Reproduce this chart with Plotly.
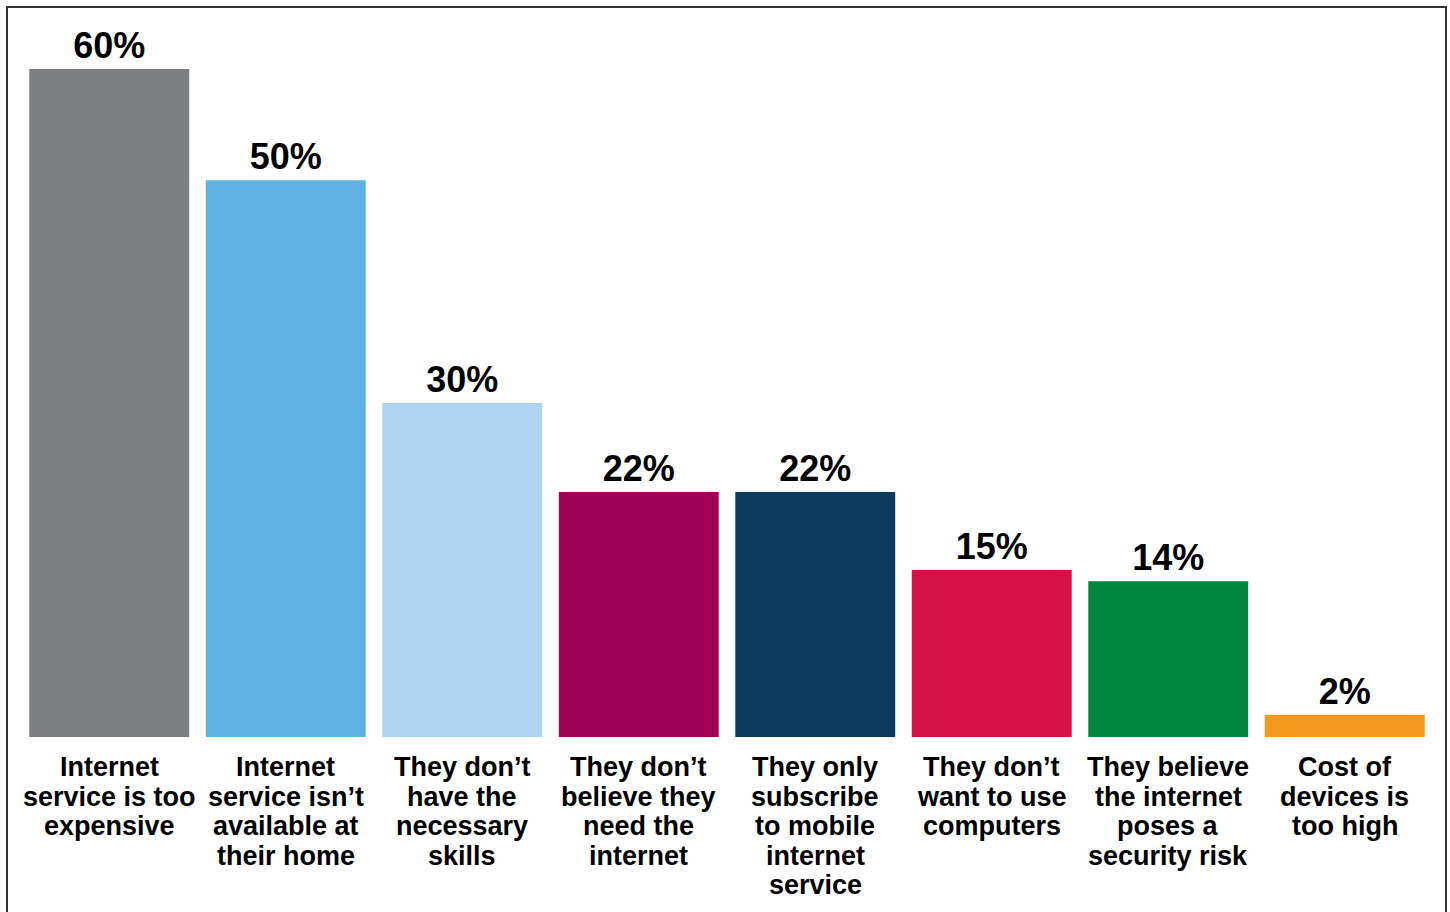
import plotly.graph_objects as go

# Reasons households give for not having home internet
categories = [
    "Internet<br>service is too<br>expensive",
    "Internet<br>service isn’t<br>available at<br>their home",
    "They don’t<br>have the<br>necessary<br>skills",
    "They don’t<br>believe they<br>need the<br>internet",
    "They only<br>subscribe<br>to mobile<br>internet<br>service",
    "They don’t<br>want to use<br>computers",
    "They believe<br>the internet<br>poses a<br>security risk",
    "Cost of<br>devices is<br>too high",
]
shares = [60, 50, 30, 22, 22, 15, 14, 2]
bar_colors = ["#7e7f83", "#5fb3e4", "#afd4ef", "#9d0055",
              "#0c3a5f", "#d31346", "#00853f", "#f7991f"]

W, H = 1450, 912
M_L, M_R, M_T, M_B = 21, 17, 40, 175
plot_w = W - M_L - M_R
plot_h = H - M_T - M_B

x_idx = list(range(len(categories)))

fig = go.Figure(
    go.Bar(
        x=x_idx,
        y=shares,
        marker=dict(color=bar_colors, line=dict(width=0)),
        width=0.906,
        texttemplate="<b>%{y}%</b>",
        textposition="outside",
        textfont=dict(family="Liberation Sans, Arial, sans-serif", size=36, color="#000"),
        cliponaxis=False,
        hoverinfo="skip",
    )
)

# Category labels, one annotation per line for tight line spacing
label_font = dict(family="Liberation Sans, Arial, sans-serif", size=27, color="#000")
line_gap = 29.5
for i, label in enumerate(categories):
    for j, line in enumerate(label.split("<br>")):
        fig.add_annotation(
            x=i, y=0, xref="x", yref="y",
            text=f"<b>{line}</b>", showarrow=False,
            xanchor="center", yanchor="middle",
            yshift=-(30 + j * line_gap),
            font=label_font,
        )

# Outer frame
fig.add_shape(
    type="rect", xref="paper", yref="paper",
    x0=(7 - M_L) / plot_w, x1=(1446 - M_L) / plot_w,
    y0=(M_T + plot_h - 930) / plot_h, y1=(M_T + plot_h - 7) / plot_h,
    line=dict(color="#333333", width=2), fillcolor="rgba(0,0,0,0)",
)

fig.update_layout(
    width=W, height=H,
    margin=dict(l=M_L, r=M_R, t=M_T, b=M_B, pad=0),
    paper_bgcolor="white", plot_bgcolor="white",
    showlegend=False,
    bargap=0.094,
    font=dict(family="Liberation Sans, Arial, sans-serif"),
    xaxis=dict(range=[-0.5, len(categories) - 0.5], showticklabels=False,
               showgrid=False, zeroline=False, showline=False, ticks=""),
    yaxis=dict(range=[0, plot_h / 11.133], showticklabels=False,
               showgrid=False, zeroline=False, showline=False, ticks=""),
)

fig.write_html("out.html")
